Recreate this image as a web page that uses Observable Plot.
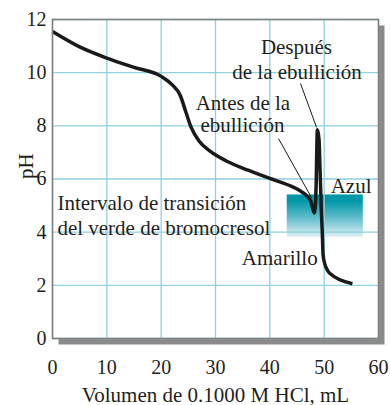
<!DOCTYPE html>
<html>
<head>
<meta charset="utf-8">
<script src="https://cdn.jsdelivr.net/npm/d3@7"></script>
<script src="https://cdn.jsdelivr.net/npm/@observablehq/plot@0.6"></script>
<style>
  html, body { margin: 0; padding: 0; background: #fff; }
</style>
</head>
<body>
<div id="chart"></div>
<script>
// Titration curve data (volume of 0.1000 M HCl in mL, pH)
const volume = [0, 5, 10, 15, 20, 22, 23.5, 24.5, 25.5, 27, 29, 32, 36, 40, 44, 46, 47.5, 48.2, 48.5, 48.75, 49.05, 49.25, 49.45, 49.65, 49.8, 50.1, 50.6, 51.5, 52.5, 54, 55.2];
const pHvalues = [11.55, 10.97, 10.55, 10.2, 9.86, 9.55, 9.15, 8.55, 7.95, 7.42, 7.05, 6.68, 6.33, 6.02, 5.72, 5.5, 5.18, 4.72, 5.6, 7.85, 7.5, 6.3, 5.0, 4.0, 3.15, 2.82, 2.57, 2.38, 2.25, 2.13, 2.06];

const xTicks = [0, 10, 20, 30, 40, 50, 60];
const yTicks = [0, 2, 4, 6, 8, 10, 12];
const xLabel = "Volumen de 0.1000 M HCl, mL";
const yLabel = "pH";

// Bromocresol green transition interval (pH range) and its drawn volume span
const bandVolume = [43.2, 57.2];
const bandPH = [3.8, 5.4];

// Annotation texts anchored in data coordinates
const noteText = ["Después", "de la ebullición", "Antes de la", "ebullición", "Intervalo de transición", "del verde de bromocresol", "Azul", "Amarillo"];
const noteVolume = [44.9, 45.0, 35.05, 34.95, 0.9, 0.9, 51.2, 48.8];
const notePH = [10.72, 9.78, 8.58, 7.75, 4.82, 3.91, 5.49, 2.78];
const noteAnchor = ["middle", "middle", "middle", "middle", "start", "start", "start", "end"];

// Leader lines (from label to curve)
const leaderV1 = [45.65, 41.6];
const leaderP1 = [9.59, 7.52];
const leaderV2 = [48.6, 47.67];
const leaderP2 = [7.94, 5.3];

const curve = volume.map((v, i) => ({v, p: pHvalues[i]}));
const band = [{x1: bandVolume[0], x2: bandVolume[1], y1: bandPH[0], y2: bandPH[1]}];
const notes = noteText.map((t, i) => ({t, v: noteVolume[i], p: notePH[i], a: noteAnchor[i]}));
const leaders = leaderV1.map((v, i) => ({x1: v, y1: leaderP1[i], x2: leaderV2[i], y2: leaderP2[i]}));

const font = "'Liberation Serif', 'Times New Roman', serif";
const gridColor = "#8fd1dc";
const ink = "#231f20";
const noteSize = 21;

const noteMark = (anchor) => Plot.text(notes.filter(d => d.a === anchor), {
  x: "v", y: "p", text: "t", textAnchor: anchor, lineAnchor: "bottom",
  fontSize: noteSize, fontFamily: font, fill: ink
});

const plot = Plot.plot({
  width: 390,
  height: 405,
  marginLeft: 52,
  marginRight: 12,
  marginTop: 19,
  marginBottom: 67,
  style: {fontFamily: font, fontSize: "20px", color: ink, background: "#fff", overflow: "visible"},
  x: {domain: [0, 60]},
  y: {domain: [0, 12]},
  marks: [
    Plot.frame({fill: "#8a8a8a", dx: 6, dy: 6}),
    Plot.frame({fill: "#fff"}),
    Plot.rect(band, {x1: "x1", x2: "x2", y1: "y1", y2: "y2", fill: "url(#bcg-grad)"}),
    Plot.gridX(xTicks, {stroke: gridColor, strokeOpacity: 1, strokeWidth: 1.3}),
    Plot.gridY(yTicks, {stroke: gridColor, strokeOpacity: 1, strokeWidth: 1.3}),
    Plot.line(curve, {x: "v", y: "p", stroke: "#1a1a1a", strokeWidth: 3.5, curve: "monotone-x", strokeLinejoin: "round", strokeLinecap: "butt"}),
    Plot.link(leaders, {x1: "x1", y1: "y1", x2: "x2", y2: "y2", stroke: "#1a1a1a", strokeWidth: 1}),
    noteMark("middle"),
    noteMark("start"),
    noteMark("end"),
    Plot.frame({stroke: "#7d7d7d", strokeWidth: 1.5}),
    Plot.axisX(xTicks, {tickSize: 0, tickPadding: 21, fontSize: 20, fontFamily: font, fill: ink,
      label: null}),
    Plot.axisY(yTicks, {tickSize: 0, tickPadding: 6, fontSize: 20, fontFamily: font, fill: ink,
      label: null}),
    Plot.text([xLabel], {frameAnchor: "bottom", dy: 63, lineAnchor: "bottom", fontSize: noteSize, fontFamily: font, fill: ink}),
    Plot.text([yLabel], {frameAnchor: "left", dx: -26, rotate: -90, lineAnchor: "middle", fontSize: noteSize, fontFamily: font, fill: ink})
  ]
});

const svg = d3.select(plot);
svg.insert("defs", ":first-child").html(`
  <linearGradient id="bcg-grad" x1="0" y1="0" x2="0" y2="1">
    <stop offset="0" stop-color="#0097a8"/>
    <stop offset="0.15" stop-color="#0098a9"/>
    <stop offset="0.55" stop-color="#62bdcb"/>
    <stop offset="1" stop-color="#e0f1f4"/>
  </linearGradient>
  <filter id="shadow-blur" x="-10%" y="-10%" width="130%" height="130%">
    <feGaussianBlur stdDeviation="3"/>
  </filter>`);
svg.select('g[aria-label="frame"]').attr("filter", "url(#shadow-blur)");

document.getElementById("chart").appendChild(plot);
</script>
</body>
</html>
